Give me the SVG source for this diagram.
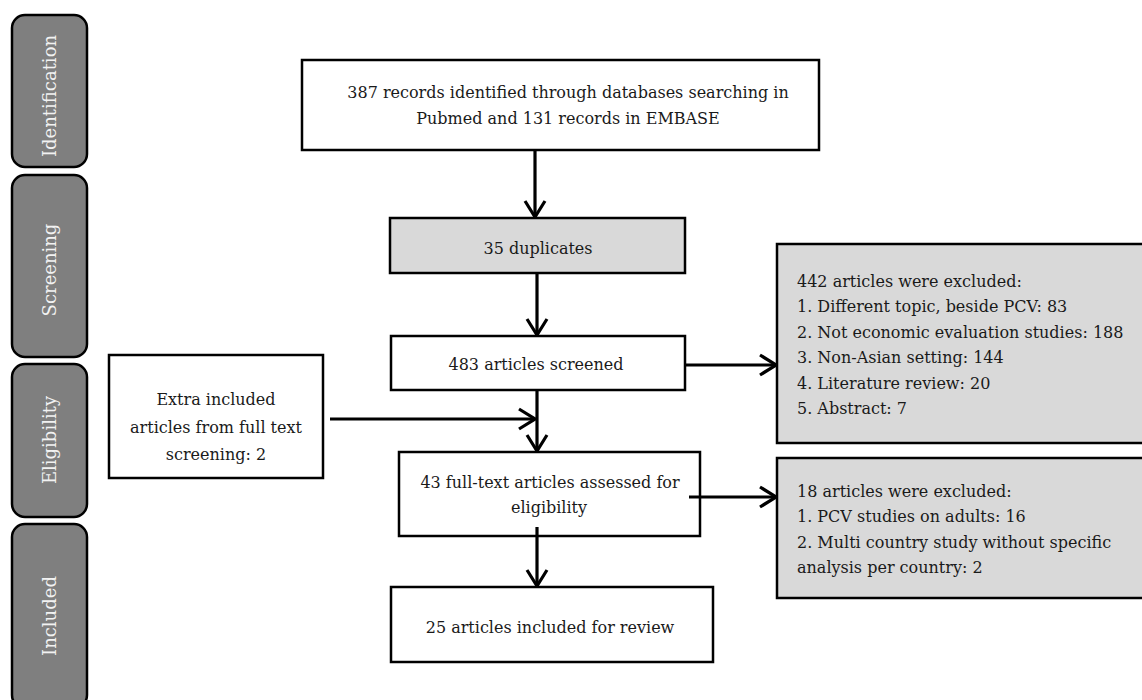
<svg xmlns="http://www.w3.org/2000/svg" width="1142" height="700" viewBox="0 0 1142 700">
<style>
.box{fill:#ffffff;stroke:#000000;stroke-width:2.5}
.grey{fill:#d9d9d9;stroke:#000000;stroke-width:2.5}
.side{fill:#7f7f7f;stroke:#000000;stroke-width:2.5}
.t{font-family:"DejaVu Serif","Liberation Serif",serif;font-size:16px;fill:#1a1a1a}
.c{text-anchor:middle}
.st{font-family:"DejaVu Serif","Liberation Serif",serif;font-size:18px;fill:#f2f2f2;text-anchor:middle}
.arr{fill:none;stroke:#000000;stroke-width:3.2;marker-end:url(#ah)}
</style>
<defs>
<marker id="ah" markerUnits="userSpaceOnUse" viewBox="-20 -12 22 24" refX="0" refY="0" markerWidth="22" markerHeight="24" orient="auto">
<path d="M-16,-10 L0,0 L-16,10" fill="none" stroke="#000000" stroke-width="3.2"/>
</marker>
</defs>
<rect width="1142" height="700" fill="#ffffff"/>
<g id="stage-identification">
<rect class="side" x="12" y="15" width="75" height="152" rx="13"/>
<text class="st" transform="translate(56,96) rotate(-90)">Identification</text>
</g>
<g id="stage-screening">
<rect class="side" x="12" y="175" width="75" height="182" rx="13"/>
<text class="st" transform="translate(56,270) rotate(-90)">Screening</text>
</g>
<g id="stage-eligibility">
<rect class="side" x="12" y="364" width="75" height="153" rx="13"/>
<text class="st" transform="translate(56,440) rotate(-90)">Eligibility</text>
</g>
<g id="stage-included">
<rect class="side" x="12" y="524" width="75" height="184" rx="13"/>
<text class="st" transform="translate(56,616) rotate(-90)">Included</text>
</g>
<g id="records">
<rect class="box" x="302" y="60" width="517" height="90"/>
<text class="t c" x="568" y="98">387 records identified through databases searching in</text>
<text class="t c" x="568" y="124">Pubmed and 131 records in EMBASE</text>
</g>
<g id="duplicates">
<rect class="grey" x="390" y="218" width="295" height="55"/>
<text class="t c" x="538" y="254">35 duplicates</text>
</g>
<g id="screened">
<rect class="box" x="391" y="336" width="294" height="54"/>
<text class="t c" x="536" y="370">483 articles screened</text>
</g>
<g id="excluded1">
<rect class="grey" x="777" y="244" width="370" height="199"/>
<text class="t" x="797" y="287">442 articles were excluded:</text>
<text class="t" x="797" y="312.4">1. Different topic, beside PCV: 83</text>
<text class="t" x="797" y="337.8">2. Not economic evaluation studies: 188</text>
<text class="t" x="797" y="363.2">3. Non-Asian setting: 144</text>
<text class="t" x="797" y="388.6">4. Literature review: 20</text>
<text class="t" x="797" y="414">5. Abstract: 7</text>
</g>
<g id="extra">
<rect class="box" x="109" y="355" width="214" height="123"/>
<text class="t c" x="216" y="405">Extra included</text>
<text class="t c" x="216" y="433">articles from full text</text>
<text class="t c" x="216" y="460">screening: 2</text>
</g>
<g id="fulltext">
<rect class="box" x="399" y="452" width="301" height="84"/>
<text class="t c" x="550" y="488">43 full-text articles assessed for</text>
<text class="t c" x="549" y="513">eligibility</text>
</g>
<g id="excluded2">
<rect class="grey" x="777" y="458" width="370" height="140"/>
<text class="t" x="797" y="497">18 articles were excluded:</text>
<text class="t" x="797" y="522">1. PCV studies on adults: 16</text>
<text class="t" x="797" y="548">2. Multi country study without specific</text>
<text class="t" x="797" y="573">analysis per country: 2</text>
</g>
<g id="included">
<rect class="box" x="391" y="587" width="322" height="75"/>
<text class="t c" x="550" y="633">25 articles included for review</text>
</g>
<g id="connectors">
<path class="arr" d="M535,150 L535,217"/>
<path class="arr" d="M537,273 L537,335"/>
<path class="arr" d="M685,365 L776,365"/>
<path class="arr" d="M537,390 L537,451"/>
<path class="arr" d="M330,419 L535,419"/>
<path class="arr" d="M689,497 L776,497"/>
<path class="arr" d="M537,527 L537,586"/>
</g>
</svg>
